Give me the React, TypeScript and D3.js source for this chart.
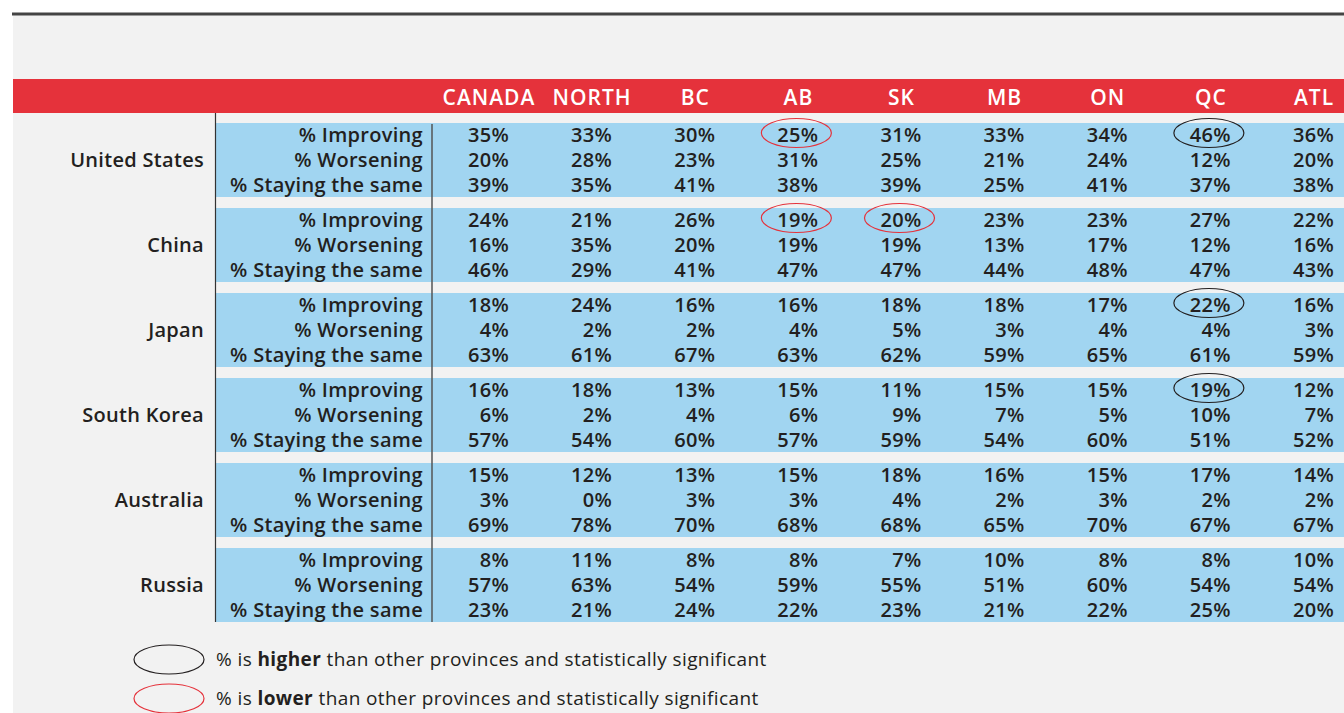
import React from "react";
import * as d3 from "d3";

const regions = ["CANADA", "NORTH", "BC", "AB", "SK", "MB", "ON", "QC", "ATL"];
const countries = ["United States", "China", "Japan", "South Korea", "Australia", "Russia"];
const measures = ["% Improving", "% Worsening", "% Staying the same"];

const unitedStates = [
  [35, 33, 30, 25, 31, 33, 34, 46, 36],
  [20, 28, 23, 31, 25, 21, 24, 12, 20],
  [39, 35, 41, 38, 39, 25, 41, 37, 38],
];
const china = [
  [24, 21, 26, 19, 20, 23, 23, 27, 22],
  [16, 35, 20, 19, 19, 13, 17, 12, 16],
  [46, 29, 41, 47, 47, 44, 48, 47, 43],
];
const japan = [
  [18, 24, 16, 16, 18, 18, 17, 22, 16],
  [4, 2, 2, 4, 5, 3, 4, 4, 3],
  [63, 61, 67, 63, 62, 59, 65, 61, 59],
];
const southKorea = [
  [16, 18, 13, 15, 11, 15, 15, 19, 12],
  [6, 2, 4, 6, 9, 7, 5, 10, 7],
  [57, 54, 60, 57, 59, 54, 60, 51, 52],
];
const australia = [
  [15, 12, 13, 15, 18, 16, 15, 17, 14],
  [3, 0, 3, 3, 4, 2, 3, 2, 2],
  [69, 78, 70, 68, 68, 65, 70, 67, 67],
];
const russia = [
  [8, 11, 8, 8, 7, 10, 8, 8, 10],
  [57, 63, 54, 59, 55, 51, 60, 54, 54],
  [23, 21, 24, 22, 23, 21, 22, 25, 20],
];
const tables = [unitedStates, china, japan, southKorea, australia, russia];

// significance marks: [country, measure, region, "higher" | "lower"]
const significant: [string, string, string, string][] = [
  ["United States", "% Improving", "AB", "lower"],
  ["United States", "% Improving", "QC", "higher"],
  ["China", "% Improving", "AB", "lower"],
  ["China", "% Improving", "SK", "lower"],
  ["Japan", "% Improving", "QC", "higher"],
  ["South Korea", "% Improving", "QC", "higher"],
];

const legendItems = [
  { kind: "higher", pre: "% is ", bold: "higher", post: " than other provinces and statistically significant" },
  { kind: "lower", pre: "% is ", bold: "lower", post: " than other provinces and statistically significant" },
];

const W = 1344;
const H = 713;
const RED = "#e5323b";
const BLUE = "#a1d5f1";
const BG = "#f2f2f2";
const INK = "#231f20";
const FONT = "'Open Sans', Lato, sans-serif";

export default function App() {
  const x = d3.scalePoint<string>().domain(regions).range([509, 1334]);
  const blockY = d3.scaleBand<string>().domain(countries).range([123, 622]).paddingInner(11 / 85).paddingOuter(0);
  const rowY = d3.scaleBand<string>().domain(measures).range([0, 75]);
  const bh = blockY.bandwidth();
  const rowBase = (c: string, m: string) => (blockY(c) as number) + (rowY(m) as number) + 19;
  const cellText = { fill: INK, fontSize: 20, fontWeight: 600, letterSpacing: 0.3 } as const;

  return (
    <div style={{ position: "absolute", left: 0, top: 0, width: W, height: H }}>
      <svg width={W} height={H} style={{ display: "block", fontFamily: FONT }}>
        <rect x={0} y={0} width={W} height={H} fill="#ffffff" />
        <rect x={13} y={15} width={W - 13} height={H - 15} fill={BG} />
        <line x1={12} x2={W} y1={14} y2={14} stroke="#444444" strokeWidth={3} />
        <rect x={13} y={79} width={W - 13} height={34} fill={RED} />
        {regions.map((r) => (
          <text key={r} x={(x(r) as number) - 20} y={105} textAnchor="middle" fill="#ffffff" fontSize={21} fontWeight={600} letterSpacing={1}>
            {r}
          </text>
        ))}
        {countries.map((c, ci) => {
          const top = blockY(c) as number;
          return (
            <g key={c}>
              <rect x={216} y={top} width={W - 216} height={bh} fill={BLUE} />
              <text x={204} y={rowBase(c, measures[1])} textAnchor="end" {...cellText}>
                {c}
              </text>
              {measures.map((m, mi) => (
                <g key={m}>
                  <text x={423} y={rowBase(c, m)} textAnchor="end" {...cellText}>
                    {m}
                  </text>
                  {regions.map((r, ri) => (
                    <text key={r} x={x(r) as number} y={rowBase(c, m)} textAnchor="end" {...cellText}>
                      {tables[ci][mi][ri]}%
                    </text>
                  ))}
                </g>
              ))}
            </g>
          );
        })}
        <line x1={215.5} x2={215.5} y1={113} y2={622} stroke="#333333" strokeWidth={1.2} />
        <line x1={432} x2={432} y1={124} y2={622} stroke="#555555" strokeWidth={1.5} />
        {significant.map(([c, m, r, kind], i) => (
          <ellipse
            key={i}
            cx={(x(r) as number) - 22}
            cy={rowBase(c, m) - 9}
            rx={35}
            ry={14.5}
            fill="none"
            stroke={kind === "higher" ? INK : RED}
            strokeWidth={1.2}
          />
        ))}
        {legendItems.map((it, i) => {
          const base = 666 + i * 39;
          return (
            <g key={it.kind}>
              <ellipse cx={169} cy={base - 6.5} rx={35} ry={14.5} fill="none" stroke={it.kind === "higher" ? INK : RED} strokeWidth={1.2} />
              <text x={216} y={base} fill={INK} fontSize={19} letterSpacing={0.4}>
                {it.pre}
                <tspan fontWeight={700}>{it.bold}</tspan>
                {it.post}
              </text>
            </g>
          );
        })}
      </svg>
    </div>
  );
}
